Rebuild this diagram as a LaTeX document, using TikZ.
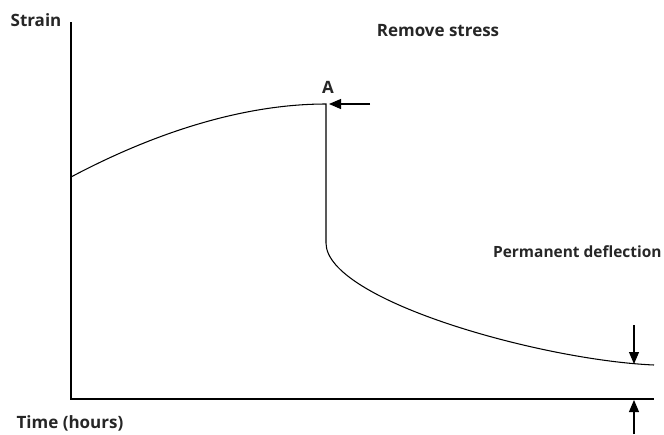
\documentclass[tikz,border=0pt]{standalone}
\usepackage{fontspec}
\setmainfont{Open Sans}
\usepackage{tikz}
\usetikzlibrary{arrows.meta}

\begin{document}
\begin{tikzpicture}[
  x=0.03cm, y=-0.03cm,
  every node/.style={font=\fontsize{14.5}{16}\selectfont\bfseries, text=black!85},
  axis/.style={line width=0.9pt},
  curve/.style={line width=0.9pt},
  arr/.style={-{Triangle[length=0.36cm, width=0.3cm]}, line width=0.9pt},
]
  \useasboundingbox (0,0) rectangle (664,434);

  % Axes
  \coordinate (O)    at (71,399);
  \coordinate (ytop) at (71,22);
  \coordinate (xend) at (654,399);
  \draw[axis] (ytop) -- (O) -- (xend);

  % Strain curve
  \coordinate (start) at (71,177);
  \coordinate (peak)  at (326,104);
  \coordinate (drop)  at (326,243);
  \coordinate (final) at (654,365);
  \draw[curve] (start) .. controls (150,135) and (240,104) .. (peak) -- (drop)
               .. controls (326,300) and (540,360) .. (final);

  % Labels
  \node (strain) at (36,20)   {Strain};
  \node (remove) at (438,31)  {Remove stress};
  \node (A)      at (328,87)  {A};
  \node[anchor=east, inner sep=1pt, font=\fontsize{13.2}{15}\selectfont\bfseries]
       (perm) at (663,252) {Permanent deflection};
  \node (time)   at (70,423)  {Time (hours)};

  % Arrows
  \coordinate (Atail)  at (370,104);
  \coordinate (Atip)   at (329,104);
  \coordinate (dtail)  at (634,325);
  \coordinate (dtip)   at (634,364);
  \coordinate (utail)  at (634,434);
  \coordinate (utip)   at (634,400);
  \draw[arr] (Atail) -- (Atip);
  \draw[arr] (dtail) -- (dtip);
  \draw[arr] (utail) -- (utip);
\end{tikzpicture}
\end{document}
